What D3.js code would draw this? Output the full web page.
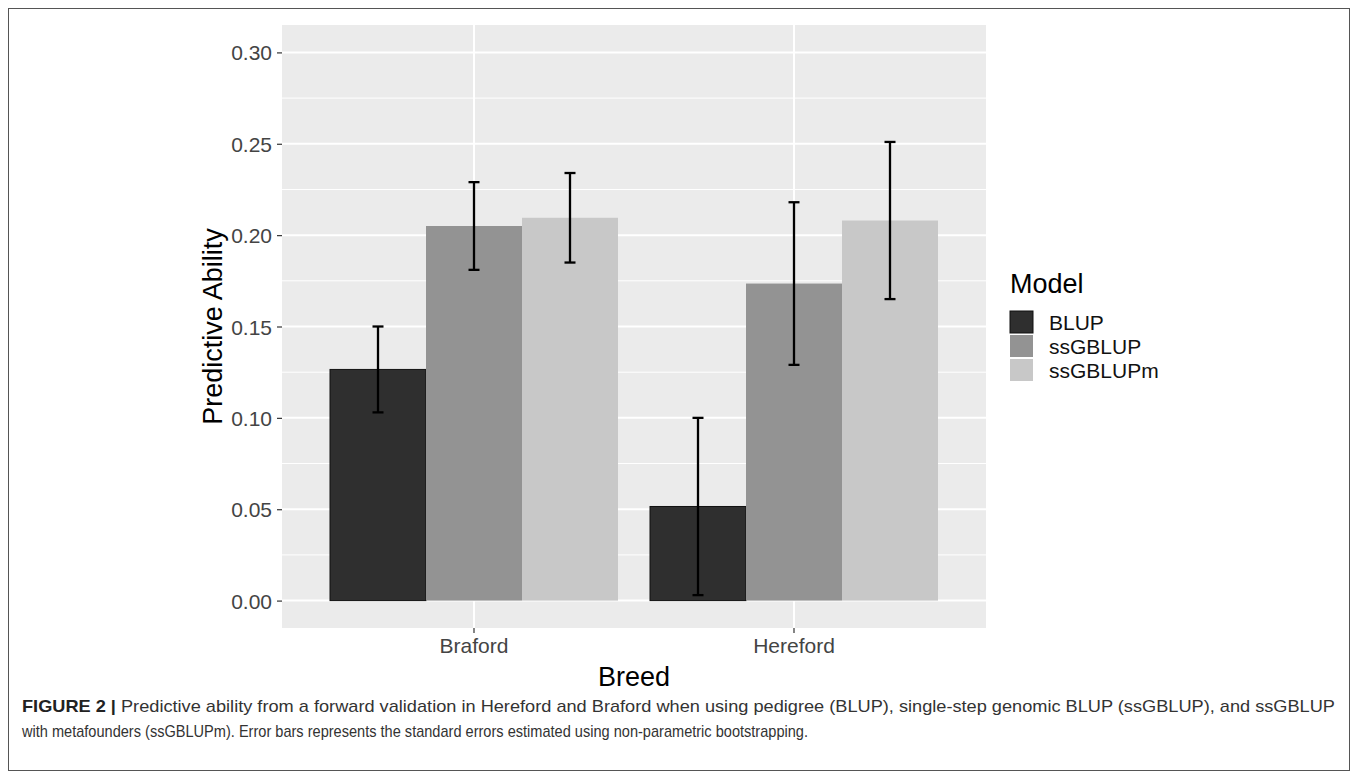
<!DOCTYPE html>
<html>
<head>
<meta charset="utf-8">
<script src="https://cdn.jsdelivr.net/npm/d3@7"></script>
<style>
    body { margin: 0; background: #fff; }
    svg { display: block; font-family: 'Liberation Sans', Arial, Helvetica, sans-serif; }
    .tick-label { fill: #444; font-size: 21px; }
    .axis-title { fill: #000; font-size: 27px; }
    .caption { font-size: 17px; fill: #333; }
</style>
</head>
<body>
<div id="chart"></div>
<script>
// values
const breeds = ['Braford', 'Hereford'];
const models = ['BLUP', 'ssGBLUP', 'ssGBLUPm'];
const brafordMean = [0.1265, 0.205, 0.2095];
const brafordSE = [0.0235, 0.024, 0.0245];
const herefordMean = [0.0515, 0.1735, 0.208];
const herefordSE = [0.0485, 0.0445, 0.043];
const yTicks = [0, 0.05, 0.1, 0.15, 0.2, 0.25, 0.3];
const yMinor = [0.025, 0.075, 0.125, 0.175, 0.225, 0.275];

const fills = ['#2f2f2f', '#939393', '#c8c8c8'];

const W = 1357, H = 777;
const panel = { left: 282, right: 986, top: 25, bottom: 628 };

// table for the marks
const rows = [];
breeds.forEach((b, i) => {
    const means = i === 0 ? brafordMean : herefordMean;
    const ses = i === 0 ? brafordSE : herefordSE;
    models.forEach((m, j) => {
        rows.push({ breed: b, model: m, mean: means[j], se: ses[j] });
    });
});

const svg = d3.select('#chart').append('svg')
    .attr('width', W)
    .attr('height', H);

// outer frame
svg.append('rect')
    .attr('x', 8.5).attr('y', 8.5)
    .attr('width', 1341).attr('height', 762)
    .attr('fill', 'none')
    .attr('stroke', '#555')
    .attr('stroke-width', 1);

// scales (ggplot style: limits 0..0.3 with 5% expansion)
const y = d3.scaleLinear()
    .domain([-0.015, 0.315])
    .range([panel.bottom, panel.top]);

const x = d3.scaleBand()
    .domain(breeds)
    .range([panel.left, panel.right])
    .paddingInner(0.1)
    .paddingOuter(0.15);

const xm = d3.scaleBand()
    .domain(models)
    .range([0, x.bandwidth()]);

const color = d3.scaleOrdinal().domain(models).range(fills);

const mid = (b) => x(b) + x.bandwidth() / 2;

// panel background + grid
const plot = svg.append('g').attr('class', 'plot');

plot.append('rect')
    .attr('x', panel.left).attr('y', panel.top)
    .attr('width', panel.right - panel.left)
    .attr('height', panel.bottom - panel.top)
    .attr('fill', '#ebebeb');

plot.selectAll('.minor')
    .data(yMinor)
    .join('line')
    .attr('class', 'minor')
    .attr('x1', panel.left).attr('x2', panel.right)
    .attr('y1', (d) => y(d)).attr('y2', (d) => y(d))
    .attr('stroke', '#fff')
    .attr('stroke-width', 1);

plot.selectAll('.major')
    .data(yTicks)
    .join('line')
    .attr('class', 'major')
    .attr('x1', panel.left).attr('x2', panel.right)
    .attr('y1', (d) => y(d)).attr('y2', (d) => y(d))
    .attr('stroke', '#fff')
    .attr('stroke-width', 2);

plot.selectAll('.vgrid')
    .data(breeds)
    .join('line')
    .attr('class', 'vgrid')
    .attr('x1', mid).attr('x2', mid)
    .attr('y1', panel.top).attr('y2', panel.bottom)
    .attr('stroke', '#fff')
    .attr('stroke-width', 2);

// bars
plot.selectAll('.bar')
    .data(rows)
    .join('rect')
    .attr('class', 'bar')
    .attr('x', (d) => x(d.breed) + xm(d.model))
    .attr('width', xm.bandwidth())
    .attr('y', (d) => y(d.mean))
    .attr('height', (d) => y(0) - y(d.mean))
    .attr('fill', (d) => color(d.model))
    .attr('stroke', (d) => (d.model === 'BLUP' ? '#111' : 'none'))
    .attr('stroke-width', 1);

// error bars
const capHalf = 5.5;
const err = plot.selectAll('.err')
    .data(rows)
    .join('g')
    .attr('class', 'err')
    .attr('transform', (d) => `translate(${x(d.breed) + xm(d.model) + xm.bandwidth() / 2},0)`)
    .attr('stroke', '#000')
    .attr('stroke-width', 2.3);

err.append('line')
    .attr('y1', (d) => y(d.mean - d.se))
    .attr('y2', (d) => y(d.mean + d.se));
err.append('line')
    .attr('x1', -capHalf).attr('x2', capHalf)
    .attr('y1', (d) => y(d.mean + d.se))
    .attr('y2', (d) => y(d.mean + d.se));
err.append('line')
    .attr('x1', -capHalf).attr('x2', capHalf)
    .attr('y1', (d) => y(d.mean - d.se))
    .attr('y2', (d) => y(d.mean - d.se));

// y axis
const yAxis = svg.append('g')
    .attr('transform', `translate(${panel.left},0)`)
    .call(d3.axisLeft(y).tickValues(yTicks).tickFormat(d3.format('.2f')).tickSize(5).tickPadding(5))
    .attr('font-family', null)
    .attr('font-size', null);
yAxis.select('.domain').remove();
yAxis.selectAll('.tick line').attr('stroke', '#333').attr('stroke-width', 1.2);
yAxis.selectAll('.tick text')
    .attr('class', 'tick-label')
    .attr('fill', null)
    .attr('dy', '0.36em');

// x axis
const xAxis = svg.append('g')
    .attr('transform', `translate(0,${panel.bottom})`)
    .call(d3.axisBottom(x).tickSize(5).tickPadding(6))
    .attr('font-family', null)
    .attr('font-size', null);
xAxis.select('.domain').remove();
xAxis.selectAll('.tick line').attr('stroke', '#333').attr('stroke-width', 1.2);
xAxis.selectAll('.tick text')
    .attr('class', 'tick-label')
    .attr('fill', null)
    .attr('y', 25)
    .attr('dy', 0);

// axis titles
svg.append('text')
    .attr('class', 'axis-title')
    .attr('text-anchor', 'middle')
    .attr('transform', `translate(222,${(panel.top + panel.bottom) / 2}) rotate(-90)`)
    .text('Predictive Ability');

svg.append('text')
    .attr('class', 'axis-title')
    .attr('text-anchor', 'middle')
    .attr('x', (panel.left + panel.right) / 2)
    .attr('y', 686)
    .text('Breed');

// legend
const legend = svg.append('g').attr('transform', 'translate(1010,0)');
legend.append('text')
    .attr('class', 'axis-title')
    .attr('x', 0).attr('y', 293)
    .text('Model');

const keys = legend.selectAll('.key')
    .data(models)
    .join('g')
    .attr('class', 'key')
    .attr('transform', (d, i) => `translate(0,${311 + i * 24})`);

keys.append('rect')
    .attr('width', 23).attr('height', 22)
    .attr('fill', (d) => color(d))
    .attr('stroke', (d) => (d === 'BLUP' ? '#111' : 'none'))
    .attr('stroke-width', 1);

keys.append('text')
    .attr('class', 'tick-label')
    .style('fill', '#111')
    .attr('x', 39).attr('y', 19)
    .text((d) => d);

// caption
const cap1 = svg.append('text')
    .attr('class', 'caption')
    .attr('x', 22).attr('y', 712)
    .attr('textLength', 1313)
    .attr('lengthAdjust', 'spacingAndGlyphs');
cap1.append('tspan').attr('font-weight', 'bold').style('fill', '#222').text('FIGURE 2 | ');
cap1.append('tspan').text('Predictive ability from a forward validation in Hereford and Braford when using pedigree (BLUP), single-step genomic BLUP (ssGBLUP), and ssGBLUP');

svg.append('text')
    .attr('class', 'caption')
    .attr('x', 22).attr('y', 737)
    .attr('textLength', 786)
    .attr('lengthAdjust', 'spacingAndGlyphs')
    .text('with metafounders (ssGBLUPm). Error bars represents the standard errors estimated using non-parametric bootstrapping.');
</script>
</body>
</html>
